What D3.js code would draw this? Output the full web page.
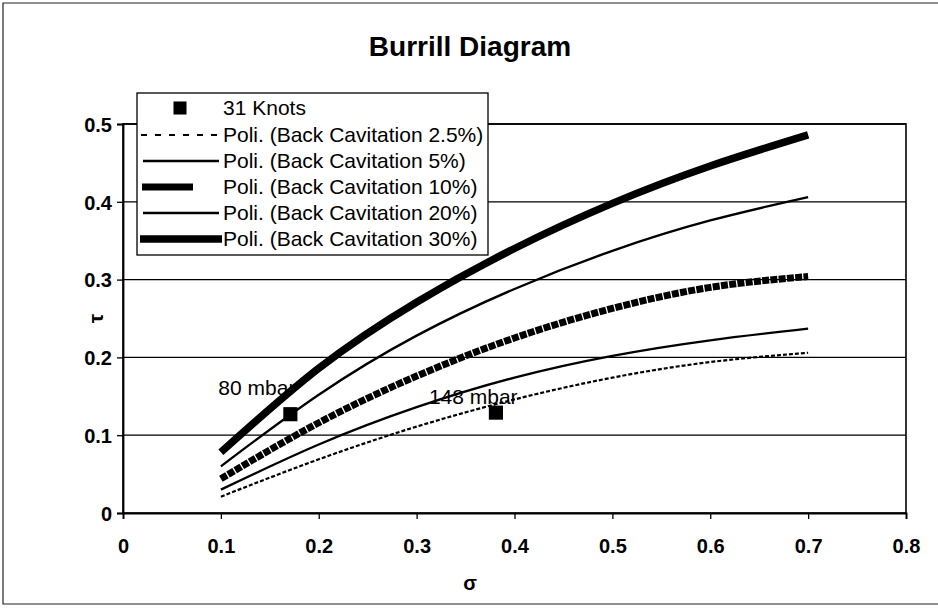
<!DOCTYPE html>
<html><head><meta charset="utf-8">
<script src="https://cdn.jsdelivr.net/npm/d3@7"></script>
<style>
html,body{margin:0;padding:0;background:#fff;}
text{font-family:"Liberation Sans",Arial,sans-serif;fill:#000;}
</style></head>
<body>
<svg id="chart" width="938" height="609"></svg>
<script>
const sigma = [0.1, 0.2, 0.3, 0.4, 0.5, 0.6, 0.7];
const cav2_5 = [0.021, 0.069, 0.111, 0.146, 0.174, 0.194, 0.206];
const cav5   = [0.030, 0.088, 0.136, 0.174, 0.202, 0.222, 0.237];
const cav10  = [0.044, 0.116, 0.176, 0.225, 0.263, 0.290, 0.304];
const cav20  = [0.060, 0.152, 0.228, 0.288, 0.337, 0.376, 0.406];
const cav30  = [0.078, 0.186, 0.271, 0.340, 0.398, 0.446, 0.486];
const knotsSigma = [0.171, 0.381];
const knotsTau   = [0.127, 0.129];
const knotsLabels = ["80 mbar", "148 mbar"];
const seriesNames = ["Poli. (Back Cavitation 2.5%)", "Poli. (Back Cavitation 5%)", "Poli. (Back Cavitation 10%)", "Poli. (Back Cavitation 20%)", "Poli. (Back Cavitation 30%)"];
const knotsName = "31 Knots";
const xTicks = [0, 0.1, 0.2, 0.3, 0.4, 0.5, 0.6, 0.7, 0.8];
const yTicks = [0, 0.1, 0.2, 0.3, 0.4, 0.5];
const title = "Burrill Diagram";
const xTitle = "σ";
const yTitle = "τ";

const svg = d3.select("#chart");
const W = 938, H = 609;

// outer frame (top, left, bottom)
svg.append("path").attr("d",`M${W},3 H3 V${H-5} H${W}`).attr("fill","none")
  .attr("stroke","#222").attr("stroke-width",1.2);

const x = d3.scaleLinear().domain([0,0.8]).range([123,906]);
const y = d3.scaleLinear().domain([0,0.5]).range([513,124]);

function txt(g, t, tx, ty, size, weight, anchor){
  return g.append("text").attr("x",tx).attr("y",ty)
    .attr("text-anchor",anchor||"start").style("font-size",size+"px")
    .style("font-weight",weight||"normal").text(t);
}

// title
txt(svg, title, 470, 56, 28, "bold", "middle");

// gridlines
svg.append("g").selectAll("line").data(yTicks.filter(d=>d>0)).join("line")
  .attr("x1",x(0)).attr("x2",x(0.8)).attr("y1",d=>y(d)).attr("y2",d=>y(d))
  .attr("stroke","#000").attr("stroke-width",1.3);
// plot border
svg.append("rect").attr("x",x(0)).attr("y",y(0.5)).attr("width",x(0.8)-x(0)).attr("height",y(0)-y(0.5))
  .attr("fill","none").attr("stroke","#000").attr("stroke-width",1.6);

// axes
const xAxis = svg.append("g").attr("transform",`translate(0,${y(0)})`)
  .call(d3.axisBottom(x).tickValues(xTicks).tickSize(6).tickFormat(d3.format("")));
const yAxis = svg.append("g").attr("transform",`translate(${x(0)},0)`)
  .call(d3.axisLeft(y).tickValues(yTicks).tickSize(6).tickFormat(d3.format("")));
[xAxis,yAxis].forEach(a=>{
  a.select(".domain").attr("stroke","#000").attr("stroke-width",1.8);
  a.selectAll(".tick line").attr("stroke","#000").attr("stroke-width",1.3);
  a.selectAll(".tick text").style("font-size","20px").style("font-weight","bold")
   .style("font-family","'Liberation Sans',Arial,sans-serif").attr("fill","#000");
});
xAxis.selectAll(".tick text").attr("dy",0).attr("y",40);
yAxis.selectAll(".tick text").attr("x",-11).attr("dy","0.36em");

// axis titles
txt(svg, xTitle, 470, 590, 20, "bold", "middle");
svg.append("text").attr("transform",`translate(103,${y(0.25)}) rotate(-90)`)
  .attr("text-anchor","middle").style("font-size","21px").style("font-weight","bold").text(yTitle);

// series
const styles = [
  {w:2.2, dash:"4,2"},
  {w:2.3, dash:null},
  {w:7, dash:"7,1.3"},
  {w:2.3, dash:null},
  {w:7.5, dash:null}
];
const allSeries = [cav2_5, cav5, cav10, cav20, cav30];
const line = d3.line().x(d=>x(d[0])).y(d=>y(d[1])).curve(d3.curveNatural);
allSeries.forEach((vals,i)=>{
  const p = svg.append("path").datum(sigma.map((s,j)=>[s,vals[j]]))
    .attr("d",line).attr("fill","none").attr("stroke","#000")
    .attr("stroke-width",styles[i].w).attr("stroke-linejoin","round");
  if(styles[i].dash) p.attr("stroke-dasharray",styles[i].dash);
});

// markers
const sym = d3.symbol().type(d3.symbolSquare).size(200);
svg.append("g").selectAll("path").data(knotsSigma.map((s,i)=>[s,knotsTau[i]])).join("path")
  .attr("d",sym).attr("transform",d=>`translate(${x(d[0])},${y(d[1])})`).attr("fill","#000");
// labels
const lblPos = [[-72,-19],[-67,-9]];
knotsLabels.forEach((t,i)=>{
  txt(svg, t, x(knotsSigma[i])+lblPos[i][0], y(knotsTau[i])+lblPos[i][1], 21, "normal", "start");
});

// legend
const lg = svg.append("g");
lg.append("rect").attr("x",137).attr("y",93).attr("width",351).attr("height",162)
  .attr("fill","#fff").attr("stroke","#000").attr("stroke-width",1.3);
const rowY = [108, 135, 161, 187, 213, 239];
lg.append("path").attr("d",d3.symbol().type(d3.symbolSquare).size(170)).attr("transform",`translate(180,${rowY[0]})`).attr("fill","#000");
txt(lg, knotsName, 223, rowY[0]+7, 21, "normal", "start");
const sampleX = [[141,219],[143,219],[142,193],[143,219],[140,222]];
seriesNames.forEach((n,i)=>{
  const ly = rowY[i+1];
  const l = lg.append("line").attr("x1",sampleX[i][0]).attr("x2",sampleX[i][1]).attr("y1",ly).attr("y2",ly)
    .attr("stroke","#000").attr("stroke-width",styles[i].w);
  if(i===0) l.attr("stroke-dasharray","6,8");
  txt(lg, n, 223, ly+7, 21, "normal", "start");
});
</script>
</body></html>
